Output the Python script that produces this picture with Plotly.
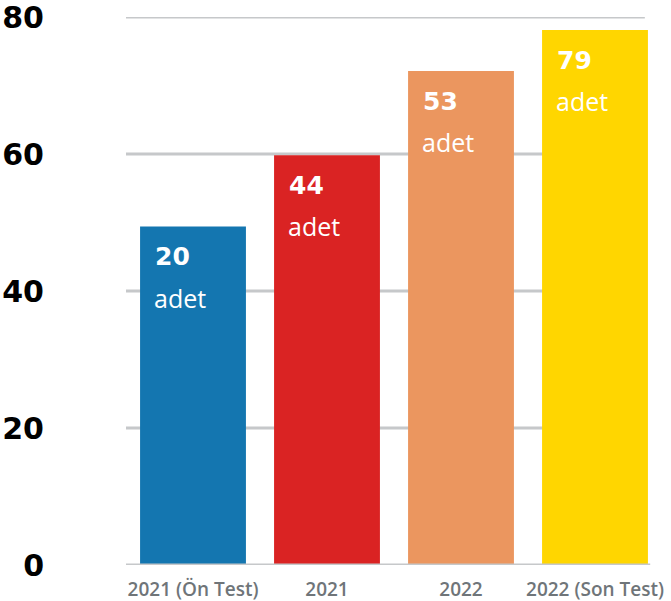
import plotly.graph_objects as go

categories = ["2021 (Ön Test)", "2021", "2022", "2022 (Son Test)"]
bar_heights = [49.4, 59.8, 72.1, 78.1]
count_labels = ["20", "44", "53", "79"]
unit_label = "adet"
colors = ["#1476b0", "#da2323", "#eb965f", "#ffd600"]
y_ticks = [0, 20, 40, 60, 80]

fig = go.Figure()
fig.add_trace(go.Bar(
    x=categories, y=bar_heights, marker=dict(color=colors, line=dict(width=0)),
    hoverinfo="skip", showlegend=False,
))

# gridlines (excluding baseline) as shapes
for t in y_ticks[1:]:
    fig.add_shape(type="line", xref="paper", yref="y", x0=0, x1=0.968, y0=t, y1=t,
                  line=dict(color="#c6c8ca", width=3), layer="below")
fig.add_shape(type="line", xref="paper", yref="y", x0=0, x1=0.978, y0=0, y1=0,
              line=dict(color="#c6c8ca", width=3), layer="above")

for i, (h, lab) in enumerate(zip(bar_heights, count_labels)):
    fig.add_annotation(x=i, y=h, xref="x", yref="y", text="<b>%s</b>" % lab,
                       showarrow=False, xanchor="left", yanchor="middle",
                       xshift=-40, yshift=-30,
                       font=dict(family="DejaVu Sans", size=25, color="white", weight=700))
    fig.add_annotation(x=i, y=h, xref="x", yref="y", text=unit_label,
                       showarrow=False, xanchor="left", yanchor="middle",
                       xshift=-41, yshift=-71,
                       font=dict(family="Open Sans", size=25, color="white"))

fig.update_layout(
    width=671, height=601,
    margin=dict(l=126, r=9, t=17, b=36, autoexpand=False),
    plot_bgcolor="white", paper_bgcolor="white",
    bargap=0.21,
    xaxis=dict(type="category", range=[-0.5, 3.5], showgrid=False, showline=False, ticks="",
               tickfont=dict(family="Open Sans", size=19, color="#6f7579", weight=600),
               ticklabelstandoff=11, fixedrange=True, automargin=False),
    yaxis=dict(range=[0, 80], tickvals=y_ticks, showgrid=False, zeroline=False,
               showline=False, ticks="", ticklabeloverflow="allow",
               tickfont=dict(family="DejaVu Sans", size=30, color="black", weight=900),
               ticklabelstandoff=81, fixedrange=True, automargin=False),
)

fig.write_html("out.html", config={"displayModeBar": False},
               post_script="document.body.style.margin='0';")
